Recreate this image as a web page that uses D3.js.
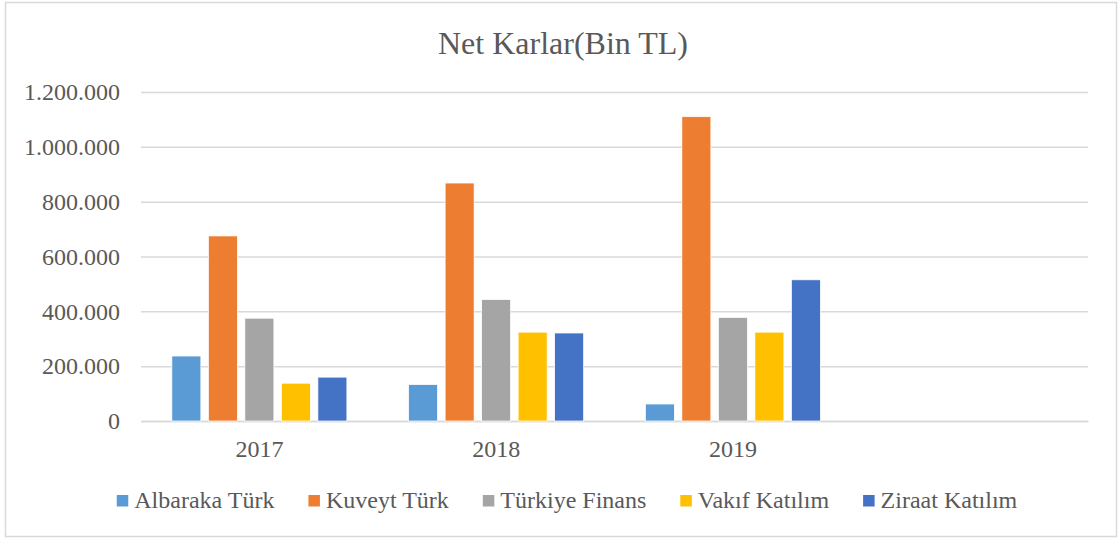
<!DOCTYPE html>
<html>
<head>
<meta charset="utf-8">
<script src="https://cdn.jsdelivr.net/npm/d3@7"></script>
<style>
  html, body { margin: 0; padding: 0; background: #fff; }
  svg, svg text { font-family: "Liberation Serif", "Times New Roman", Tinos, "DejaVu Serif", serif; }
</style>
</head>
<body>
<div id="chart"></div>
<script>
// veriler (Bin TL)
const years = ["2017", "2018", "2019", ""];
const banks = ["Albaraka Türk", "Kuveyt Türk", "Türkiye Finans", "Vakıf Katılım", "Ziraat Katılım"];
const albarakaTurk = [237000, 133000, 62000];
const kuveytTurk = [675000, 868000, 1110000];
const turkiyeFinans = [375000, 443000, 378000];
const vakifKatilim = [138000, 324000, 324000];
const ziraatKatilim = [160000, 321000, 515000];
const yTicks = [0, 200000, 400000, 600000, 800000, 1000000, 1200000];
const colors = ["#5B9BD5", "#ED7D31", "#A5A5A5", "#FFC000", "#4472C4"];

const seriesValues = [albarakaTurk, kuveytTurk, turkiyeFinans, vakifKatilim, ziraatKatilim];

const width = 1120, height = 540;
const margin = { top: 92, right: 32, bottom: 119, left: 141 };
const textColor = "#595959";
const fontFam = '"Liberation Serif", "Times New Roman", Tinos, "DejaVu Serif", serif';

const svg = d3.select("#chart")
    .append("svg")
    .attr("width", width)
    .attr("height", height);

// çerçeve
svg.append("rect")
    .attr("x", 5.5).attr("y", 2.5)
    .attr("width", 1111).attr("height", 534)
    .attr("fill", "#fff")
    .attr("stroke", "#d9d9d9")
    .attr("stroke-width", 1.5);

const trLocale = d3.formatLocale({ decimal: ",", thousands: ".", grouping: [3], currency: ["₺", ""] });
const fmt = trLocale.format(",.0f");

const x0 = d3.scaleBand()
    .domain(d3.range(years.length))
    .range([margin.left, width - margin.right])
    .padding(0);

const x1 = d3.scaleBand()
    .domain(banks)
    .range([0, x0.bandwidth()])
    .paddingInner(0.205)
    .paddingOuter(0.845);

const y = d3.scaleLinear()
    .domain([0, 1200000])
    .range([height - margin.bottom, margin.top]);

// ızgara
const yAxis = svg.append("g")
    .attr("transform", `translate(${margin.left},0)`)
    .call(d3.axisLeft(y)
        .tickValues(yTicks)
        .tickSize(-(width - margin.left - margin.right))
        .tickPadding(21)
        .tickFormat(fmt))
    .attr("font-family", fontFam);

yAxis.select(".domain").remove();
yAxis.selectAll(".tick line")
    .attr("stroke", "#d9d9d9")
    .attr("stroke-width", 1.5);
yAxis.selectAll(".tick text")
    .attr("fill", textColor)
    .attr("font-size", "24px");

// x ekseni etiketleri
const xAxis = svg.append("g")
    .attr("transform", `translate(0,${height - margin.bottom})`)
    .call(d3.axisBottom(x0)
        .tickSize(0)
        .tickPadding(19)
        .tickFormat(i => years[i]))
    .attr("font-family", fontFam);

xAxis.select(".domain")
    .attr("stroke", "#d9d9d9")
    .attr("stroke-width", 1.5);
xAxis.selectAll(".tick text")
    .attr("fill", textColor)
    .attr("font-size", "24px");

// çubuklar
const groups = svg.append("g")
    .selectAll("g")
    .data(d3.range(3))
    .join("g")
    .attr("transform", i => `translate(${x0(i)},0)`);

groups.selectAll("rect")
    .data(i => banks.map((b, k) => ({ bank: b, k: k, value: seriesValues[k][i] })))
    .join("rect")
    .attr("x", d => x1(d.bank))
    .attr("y", d => y(d.value))
    .attr("width", x1.bandwidth())
    .attr("height", d => y(0) - y(d.value))
    .attr("fill", d => colors[d.k])
    .attr("stroke", "#fff")
    .attr("stroke-width", 0.75);

// başlık
svg.append("text")
    .attr("x", width / 2 + 3)
    .attr("y", 54)
    .attr("text-anchor", "middle")
    .attr("fill", textColor)
    .attr("font-family", fontFam)
    .attr("font-size", "32px")
    .text("Net Karlar(Bin TL)");

// lejant
const legend = svg.append("g").attr("font-family", fontFam);
const legendBase = 507.5;
const swatch = 11.5, swGap = 6, itemGap = 34;

const items = legend.selectAll("g")
    .data(banks)
    .join("g");

items.append("rect")
    .attr("width", swatch)
    .attr("height", swatch)
    .attr("y", 495)
    .attr("fill", (d, k) => colors[k]);

items.append("text")
    .attr("x", swatch + swGap)
    .attr("y", legendBase)
    .attr("fill", textColor)
    .attr("font-size", "24px")
    .text(d => d);

const widths = [];
items.each(function () {
    widths.push(swatch + swGap + d3.select(this).select("text").node().getComputedTextLength());
});
const total = d3.sum(widths) + itemGap * (widths.length - 1);
let offset = 567 - total / 2;
items.attr("transform", (d, k) => {
    const t = `translate(${offset},0)`;
    offset += widths[k] + itemGap;
    return t;
});
</script>
</body>
</html>
